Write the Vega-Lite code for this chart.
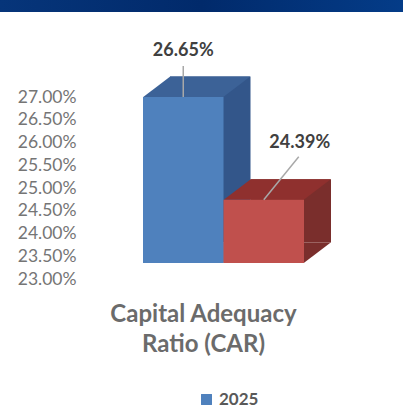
{
  "$schema": "https://vega.github.io/schema/vega-lite/v6.json",
  "autosize": "none",
  "padding": {"left": 0, "top": 0, "right": 403, "bottom": 418},
  "background": "#ffffff",
  "bounds": "flush",
  "spacing": 69,
  "config": {"font": "Lato", "view": {"stroke": null}},
  "vconcat": [
    {
      "width": 403,
      "height": 12,
      "view": {
        "stroke": null,
        "fill": {
          "gradient": "linear",
          "x1": 0, "x2": 1, "y1": 0, "y2": 0,
          "stops": [
            {"offset": 0, "color": "#06357a"},
            {"offset": 0.5, "color": "#012a6b"},
            {"offset": 1, "color": "#043c88"}
          ]
        }
      },
      "data": {"values": []},
      "mark": "rect",
      "encoding": {}
    },
    {
      "width": 403,
      "height": 182,
      "data": {
        "values": [
          {"series": "2025", "metric": "Capital Adequacy Ratio (CAR)", "ratio": 0.2665},
          {"series": "Comparison", "metric": "Capital Adequacy Ratio (CAR)", "ratio": 0.2439}
        ]
      },
      "encoding": {
        "x": {
          "field": "series",
          "type": "nominal",
          "sort": null,
          "scale": {"type": "band", "range": [143, 304], "paddingInner": 0, "paddingOuter": 0},
          "axis": {
            "orient": "bottom",
            "domain": false,
            "ticks": false,
            "labels": false,
            "title": ["Capital Adequacy", "Ratio (CAR)"],
            "titleFont": "Lato",
            "titleFontSize": 24,
            "titleFontWeight": "bold",
            "titleColor": "#6b6b6b",
            "titleLineHeight": 30,
            "titleX": 203,
            "titleY": 51,
            "titleAnchor": "middle",
            "titleAlign": "center",
            "titleBaseline": "middle"
          }
        },
        "y": {
          "field": "ratio",
          "type": "quantitative",
          "scale": {"domain": [0.23, 0.27], "range": [182, 0], "nice": false, "zero": false},
          "axis": {
            "title": null,
            "orient": "left",
            "offset": -76,
            "domain": false,
            "ticks": false,
            "grid": false,
            "labelPadding": 0,
            "labelOffset": 16,
            "labelFont": "Lato",
            "labelFontSize": 17.5,
            "labelColor": "#757575",
            "labelAlign": "right",
            "values": [0.23, 0.235, 0.24, 0.245, 0.25, 0.255, 0.26, 0.265, 0.27],
            "format": ".2%"
          }
        }
      },
      "layer": [
        {
          "mark": {"type": "bar", "xOffset": 27, "yOffset": -20.5, "y2Offset": -20.5},
          "encoding": {
            "y2": {"datum": 0.23},
            "fill": {"condition": {"test": "datum.series === '2025'", "value": "#33568a"}, "value": "#7a2e2c"}
          }
        },
        {
          "mark": {"type": "point", "filled": true, "opacity": 1, "size": 4, "strokeWidth": 0, "shape": "M40,0L67,-20.5L40,-20.5Z"},
          "encoding": {
            "y": {"datum": 0.23},
            "fill": {"condition": {"test": "datum.series === '2025'", "value": "#33568a"}, "value": "#7a2e2c"}
          }
        },
        {
          "mark": {"type": "point", "filled": true, "opacity": 1, "size": 4, "strokeWidth": 0, "shape": "M-40,0L-13,-20.5L67,-20.5L40,0Z"},
          "encoding": {
            "fill": {"condition": {"test": "datum.series === '2025'", "value": "#3c6297"}, "value": "#8f302e"}
          }
        },
        {
          "mark": {"type": "bar"},
          "encoding": {
            "y2": {"datum": 0.23},
            "color": {
              "field": "series",
              "type": "nominal",
              "scale": {"domain": ["2025", "Comparison"], "range": ["#4f81bd", "#c0504d"]},
              "legend": {
                "orient": "none",
                "legendX": 198,
                "legendY": 391,
                "title": null,
                "values": ["2025"],
                "symbolType": "square",
                "symbolSize": 120,
                "symbolOpacity": 1,
                "labelFont": "Lato",
                "labelFontSize": 17,
                "labelFontWeight": "bold",
                "labelColor": "#595959"
              }
            }
          }
        },
        {
          "transform": [{"filter": "datum.series === '2025'"}],
          "mark": {"type": "point", "filled": false, "opacity": 1, "size": 4, "strokeWidth": 1.5, "stroke": "#a8a8a8", "shape": "M0,0L0,-31"}
        },
        {
          "transform": [{"filter": "datum.series === 'Comparison'"}],
          "mark": {"type": "point", "filled": false, "opacity": 1, "size": 4, "strokeWidth": 1.5, "stroke": "#a8a8a8", "shape": "M0,0L35,-43"}
        },
        {
          "transform": [{"filter": "datum.series === '2025'"}],
          "mark": {"type": "text", "font": "Lato", "fontSize": 18, "fontWeight": "bold", "color": "#404040", "dy": -46},
          "encoding": {"text": {"field": "ratio", "type": "quantitative", "format": ".2%"}}
        },
        {
          "transform": [{"filter": "datum.series === 'Comparison'"}],
          "mark": {"type": "text", "font": "Lato", "fontSize": 18, "fontWeight": "bold", "color": "#404040", "dx": 36, "dy": -57},
          "encoding": {"text": {"field": "ratio", "type": "quantitative", "format": ".2%"}}
        }
      ]
    }
  ]
}
